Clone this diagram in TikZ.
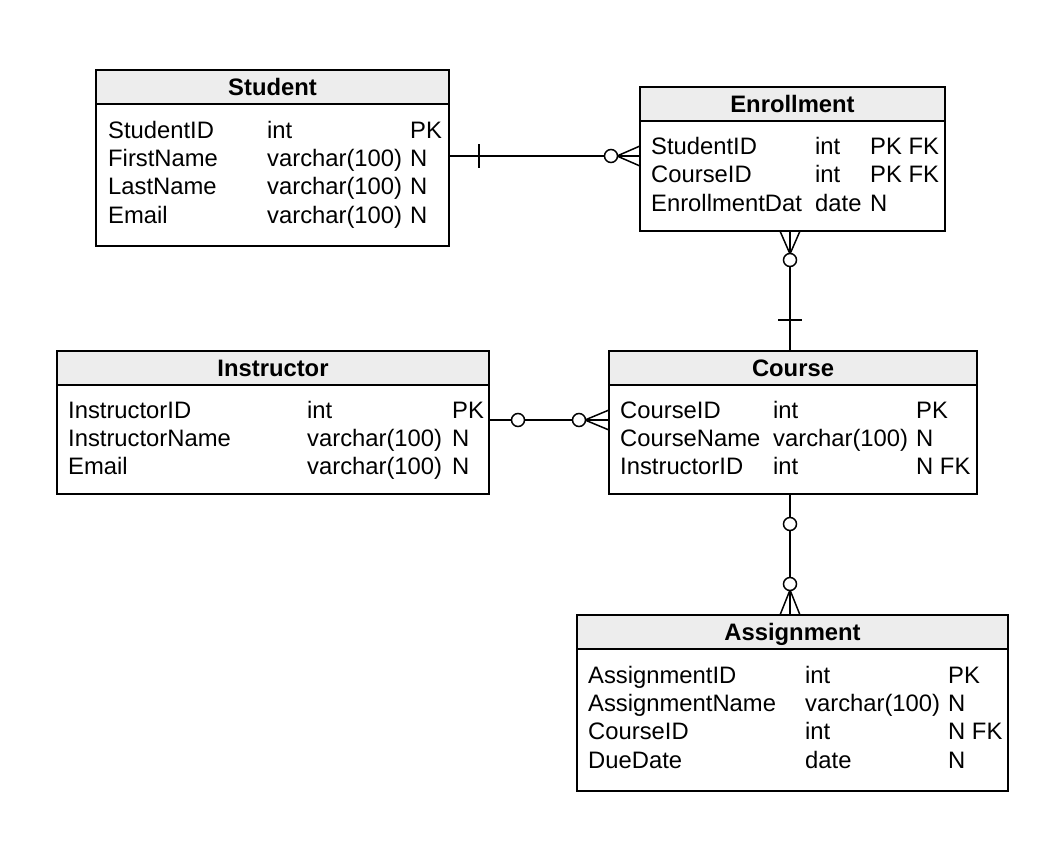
\documentclass[tikz,border=0pt]{standalone}
\usepackage{fontspec}
\setmainfont{Liberation Sans}
\begin{document}
\begin{tikzpicture}[x=1pt,y=-1pt,
  box/.style={draw,line width=1.5pt},
  hdr/.style={draw,line width=1.5pt,fill=black!7},
  t/.style={anchor=base west,inner sep=0pt,font=\fontsize{23.8}{24}\selectfont},
  h/.style={inner sep=0pt,anchor=base,font=\fontsize{23.8}{24}\selectfont\bfseries},
  ln/.style={line width=1.5pt},
  oc/.style={circle,draw,line width=1.5pt,fill=white,minimum size=13pt,inner sep=0pt}]
\useasboundingbox (0,0) rectangle (1046,846);
\newcommand\ent[6]{%
  \draw[box] (#2,#3) rectangle (#4,#5);
  \draw[hdr] (#2,#3) rectangle (#4,#3+34);
  \node[h] (#1) at ({(#2+#4)/2},#3+25) {#6};}
\ent{student}{96}{70}{449}{246}{Student}
\ent{enroll}{640}{87}{945}{231}{Enrollment}
\ent{instr}{57}{351}{489}{494}{Instructor}
\ent{course}{609}{351}{977}{494}{Course}
\ent{assign}{577}{615}{1008}{791}{Assignment}
\foreach \y/\a/\b/\c in {130/StudentID/int/PK,158/FirstName/varchar(100)/N,186/LastName/varchar(100)/N,215/Email/varchar(100)/N}{
  \node[t] at (108,\y+8) {\a}; \node[t] at (267,\y+8) {\b}; \node[t] at (410,\y+8) {\c};}
\foreach \y/\a/\b/\c in {146/StudentID/int/PK FK,174/CourseID/int/PK FK,203/EnrollmentDat/date/N}{
  \node[t] at (651,\y+8) {\a}; \node[t] at (815,\y+8) {\b}; \node[t] at (870,\y+8) {\c};}
\foreach \y/\a/\b/\c in {410/InstructorID/int/PK,438/InstructorName/varchar(100)/N,466/Email/varchar(100)/N}{
  \node[t] at (68,\y+8) {\a}; \node[t] at (307,\y+8) {\b}; \node[t] at (452,\y+8) {\c};}
\foreach \y/\a/\b/\c in {410/CourseID/int/PK,438/CourseName/varchar(100)/N,466/InstructorID/int/N FK}{
  \node[t] at (620,\y+8) {\a}; \node[t] at (773,\y+8) {\b}; \node[t] at (916,\y+8) {\c};}
\foreach \y/\a/\b/\c in {675/AssignmentID/int/PK,703/AssignmentName/varchar(100)/N,731/CourseID/int/N FK,760/DueDate/date/N}{
  \node[t] at (588,\y+8) {\a}; \node[t] at (805,\y+8) {\b}; \node[t] at (948,\y+8) {\c};}
% Student - Enrollment
\coordinate (s1) at (449,156); \coordinate (e1) at (640,156);
\draw[ln] (s1) -- (e1);
\draw[ln] (479,144) -- (479,168);
\draw[ln] (617,156) -- (640,146) (617,156) -- (640,166);
\node[oc] at (611,156) {};
% Enrollment - Course
\coordinate (e2) at (790,231); \coordinate (c2) at (790,351);
\draw[ln] (e2) -- (c2);
\draw[ln] (790,254) -- (780,231) (790,254) -- (800,231);
\draw[ln] (778,320) -- (802,320);
\node[oc] at (790,260) {};
% Instructor - Course
\coordinate (i3) at (489,420); \coordinate (c3) at (609,420);
\draw[ln] (i3) -- (c3);
\draw[ln] (585,420) -- (609,410) (585,420) -- (609,430);
\node[oc] at (518,420) {};
\node[oc] at (579,420) {};
% Course - Assignment
\coordinate (c4) at (790,494); \coordinate (a4) at (790,615);
\draw[ln] (c4) -- (a4);
\draw[ln] (790,590) -- (780,615) (790,590) -- (800,615);
\node[oc] at (790,524) {};
\node[oc] at (790,584) {};
\end{tikzpicture}
\end{document}
